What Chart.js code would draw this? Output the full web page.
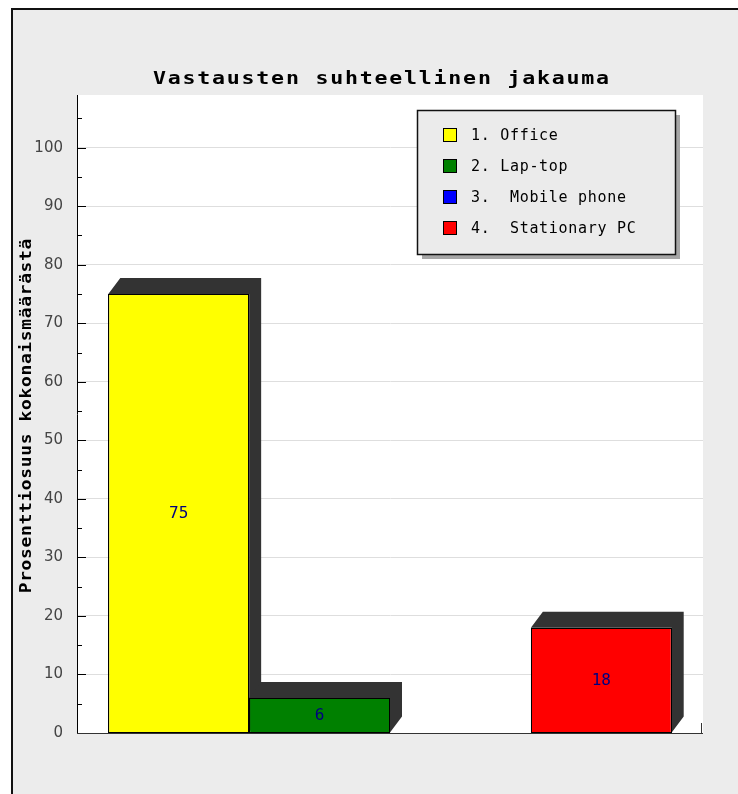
<!DOCTYPE html>
<html>
<head>
<meta charset="utf-8">
<script src="https://cdn.jsdelivr.net/npm/chart.js@4/dist/chart.umd.min.js"></script>
<style>
  html, body { margin: 0; padding: 0; background: #ffffff; }
  canvas { display: block; }
</style>
</head>
<body>
<canvas id="c" width="738" height="794"></canvas>
<script>
// Chart texts
const chartTitle = 'Vastausten suhteellinen jakauma';
const yAxisTitle = 'Prosenttiosuus kokonaismäärästä';

// One group of bars, one bar per answer option
const groupLabels = [''];
const seriesNames = ['1. Office', '2. Lap-top', '3.  Mobile phone', '4.  Stationary PC'];
const seriesValues = [75, 6, 0, 18];
const seriesColors = ['#ffff00', '#008000', '#0000ff', '#ff0000'];

// Y axis ticks
const yTickValues = [0, 10, 20, 30, 40, 50, 60, 70, 80, 90, 100];
const yMinorTickValues = [5, 15, 25, 35, 45, 55, 65, 75, 85, 95, 105];
const yMax = 109;

const MONO = '"DejaVu Sans Mono", "Liberation Mono", monospace';

// Text drawn with a horizontal stretch and extra letter spacing (wide mono look)
function drawWideText(ctx, text, x, y, font, stretch, spacing, color, align) {
  ctx.save();
  ctx.font = font;
  ctx.letterSpacing = spacing + 'px';
  ctx.fillStyle = color;
  ctx.textBaseline = 'middle';
  ctx.textAlign = 'left';
  const w = (ctx.measureText(text).width - spacing) * stretch;
  let sx = x;
  if (align === 'center') sx = x - w / 2;
  ctx.translate(sx, y);
  ctx.scale(stretch, 1);
  ctx.fillText(text, 0, 0);
  ctx.restore();
}

// Page background, outer frame and white plot area
const framePlugin = {
  id: 'frame',
  beforeDraw(chart) {
    const { ctx, chartArea: a, width, height } = chart;
    ctx.save();
    ctx.fillStyle = '#ffffff';
    ctx.fillRect(0, 0, width, height);
    ctx.fillStyle = '#ececec';
    ctx.fillRect(11, 8, width - 11, height - 8);
    ctx.strokeStyle = '#111111';
    ctx.lineWidth = 2;
    ctx.beginPath();
    ctx.moveTo(12, height + 2);
    ctx.lineTo(12, 9);
    ctx.lineTo(width + 2, 9);
    ctx.stroke();
    ctx.fillStyle = '#ffffff';
    ctx.fillRect(a.left, a.top, a.right - a.left, a.bottom - a.top);
    ctx.restore();
  }
};

// Dark 3D-style shadow behind every bar
const shadowPlugin = {
  id: 'barShadow',
  beforeDatasetsDraw(chart) {
    const ctx = chart.ctx;
    const dx = 12, dy = 16;
    ctx.save();
    ctx.fillStyle = '#333333';
    chart.data.datasets.forEach((ds, i) => {
      const meta = chart.getDatasetMeta(i);
      meta.data.forEach((bar, j) => {
        if (!ds.data[j]) return;
        const l = bar.x - bar.width / 2, r = bar.x + bar.width / 2;
        const t = bar.y, b = bar.base;
        ctx.beginPath();
        ctx.moveTo(l, t);
        ctx.lineTo(l + dx, t - dy);
        ctx.lineTo(r + dx, t - dy);
        ctx.lineTo(r + dx, b - dy);
        ctx.lineTo(r, b);
        ctx.lineTo(r, t);
        ctx.closePath();
        ctx.fill();
      });
    });
    ctx.restore();
  }
};

// Crisp bar outlines and value labels inside the bars
const valueLabelPlugin = {
  id: 'valueLabels',
  afterDatasetsDraw(chart) {
    const ctx = chart.ctx;
    chart.data.datasets.forEach((ds, i) => {
      const meta = chart.getDatasetMeta(i);
      meta.data.forEach((bar, j) => {
        const v = ds.data[j];
        if (!v) return;
        const l = Math.round(bar.x - bar.width / 2) + 0.5;
        const r = Math.round(bar.x + bar.width / 2) - 0.5;
        const t = Math.round(bar.y) + 0.5;
        const b = Math.round(bar.base) - 0.5;
        ctx.save();
        ctx.strokeStyle = '#000000';
        ctx.lineWidth = 1;
        ctx.strokeRect(l, t, r - l, b - t);
        ctx.restore();
        drawWideText(ctx, String(v), bar.x, (bar.y + bar.base) / 2 + 1,
          '16px ' + MONO, 1.0, 0, '#000080', 'center');
      });
    });
  }
};

// Title, axis title, inner tick marks, x axis line and legend box
const decorPlugin = {
  id: 'decor',
  afterDraw(chart) {
    const { ctx, chartArea: a } = chart;
    const y = chart.scales.y;

    drawWideText(ctx, chartTitle, 381, 79, 'bold 18px ' + MONO, 1.2, 1.47, '#000000', 'center');

    ctx.save();
    ctx.translate(27, 416);
    ctx.rotate(-Math.PI / 2);
    drawWideText(ctx, yAxisTitle, 0, 0, 'bold 16px ' + MONO, 1.12, 0.6, '#000000', 'center');
    ctx.restore();

    ctx.save();
    ctx.strokeStyle = '#000000';
    ctx.lineWidth = 1;
    ctx.beginPath();
    yTickValues.forEach(v => {
      const py = Math.round(y.getPixelForValue(v)) + 0.5;
      ctx.moveTo(a.left, py);
      ctx.lineTo(a.left + 9, py);
    });
    yMinorTickValues.forEach(v => {
      const py = Math.round(y.getPixelForValue(v)) + 0.5;
      ctx.moveTo(a.left, py);
      ctx.lineTo(a.left + 5, py);
    });
    ctx.stroke();

    // x axis line with its end tick
    ctx.strokeStyle = '#333333';
    ctx.beginPath();
    ctx.moveTo(a.left, a.bottom + 0.5);
    ctx.lineTo(a.right, a.bottom + 0.5);
    ctx.moveTo(a.right - 1.5, a.bottom);
    ctx.lineTo(a.right - 1.5, a.bottom - 10);
    ctx.stroke();
    ctx.restore();

    // legend
    const bx = 417, by = 110, bw = 258, bh = 144;
    ctx.save();
    ctx.fillStyle = '#a6a6a6';
    ctx.fillRect(bx + 5, by + 5, bw, bh);
    ctx.fillStyle = '#ebebeb';
    ctx.fillRect(bx, by, bw, bh);
    ctx.strokeStyle = '#111111';
    ctx.lineWidth = 1.5;
    ctx.strokeRect(bx + 0.5, by + 0.5, bw, bh);
    chart.data.datasets.forEach((ds, i) => {
      const cy = 135 + i * 31;
      ctx.fillStyle = ds.backgroundColor;
      ctx.fillRect(443.5, cy - 6.5, 13, 13);
      ctx.strokeStyle = '#000000';
      ctx.lineWidth = 1;
      ctx.strokeRect(443.5, cy - 6.5, 13, 13);
      drawWideText(ctx, ds.label, 471, cy + 1, '15px ' + MONO, 1.0, 0.7, '#000000', 'left');
    });
    ctx.restore();
  }
};

new Chart(document.getElementById('c'), {
  type: 'bar',
  data: {
    labels: groupLabels,
    datasets: seriesNames.map((name, i) => ({
      label: name,
      data: [seriesValues[i]],
      backgroundColor: seriesColors[i],
      borderColor: '#000000',
      borderWidth: 1,
      borderSkipped: 'start',
      categoryPercentage: 0.9,
      barPercentage: 1.0
    }))
  },
  options: {
    responsive: false,
    animation: false,
    devicePixelRatio: 1,
    layout: { padding: { left: 0, top: 95, right: 35, bottom: 61 } },
    plugins: {
      legend: { display: false },
      title: { display: false },
      tooltip: { enabled: false }
    },
    scales: {
      x: { display: false },
      y: {
        min: 0,
        max: yMax,
        afterFit(scale) { scale.width = 77; },
        afterBuildTicks(scale) { scale.ticks = yTickValues.map(v => ({ value: v })); },
        ticks: {
          padding: 14,
          color: '#444444',
          font: { family: '"DejaVu Sans", sans-serif', size: 15 }
        },
        grid: {
          drawTicks: false,
          color: c => (c.tick && c.tick.value === 0) ? 'rgba(0,0,0,0)' : '#dedede',
          lineWidth: 1
        },
        border: { display: true, color: '#000000', width: 1 }
      }
    }
  },
  plugins: [framePlugin, shadowPlugin, valueLabelPlugin, decorPlugin]
});
</script>
</body>
</html>
